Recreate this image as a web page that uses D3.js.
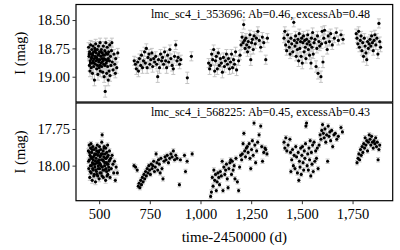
<!DOCTYPE html>
<html>
<head>
<meta charset="utf-8">
<script src="https://cdn.jsdelivr.net/npm/d3@7"></script>
<style>
body { margin: 0; background: #fff; }
svg text { font-family: "Liberation Serif", "Times New Roman", Times, serif; fill: #000; }
</style>
</head>
<body>
<svg id="chart" width="400" height="250"></svg>
<script>
// star labels
const starIds = ["lmc_sc4_i_353696", "lmc_sc4_i_568225"];
const abValues = [0.46, 0.45];
const excessAbValues = [0.48, 0.43];

// axes
const timeDomain = [386, 1948];
const timeTicks = [500, 750, 1000, 1250, 1500, 1750];
const magDomains = [[18.363, 19.223], [17.573, 18.239]];
const magTicks = [[18.50, 18.75, 19.00], [17.75, 18.00]];
const labelTime = 1296;

// observations: [time-2450000, I mag, error]
const topObs = [
  [448,18.74,.04],[450,18.82,.04],[452,18.90,.05],[453,18.78,.04],[455,18.95,.05],[456,18.86,.04],
  [458,18.72,.04],[459,18.80,.04],[461,18.92,.05],[462,18.84,.04],[464,18.76,.04],[465,18.88,.04],
  [467,18.97,.05],[468,18.81,.04],[470,18.73,.04],[471,18.86,.04],[473,18.91,.05],[474,18.78,.04],
  [476,18.84,.04],[477,19.03,.05],[479,18.75,.04],[480,18.82,.04],[482,18.89,.04],[483,18.71,.04],
  [485,18.86,.04],[486,18.79,.04],[488,18.93,.05],[489,18.84,.04],[491,18.76,.04],[492,18.90,.04],
  [494,18.98,.05],[495,18.81,.04],[497,18.73,.04],[498,18.87,.04],[500,18.92,.05],[502,18.78,.04],
  [503,18.85,.04],[505,18.70,.04],[506,18.95,.05],[508,18.82,.04],[510,18.88,.04],[511,18.76,.04],
  [513,18.91,.05],[515,18.84,.04],[516,18.79,.04],[518,18.96,.05],[520,18.86,.04],[521,18.73,.04],
  [523,18.89,.04],[525,19.00,.05],[526,18.81,.04],[528,18.77,.04],[530,19.13,.05],[532,18.85,.04],
  [533,18.70,.04],[535,18.88,.04],[537,18.97,.05],[538,18.80,.04],[540,18.74,.04],[542,18.91,.04],
  [545,19.03,.05],[545,18.84,.04],[547,18.78,.04],[549,18.95,.05],[551,18.86,.04],[552,18.72,.04],
  [554,18.99,.05],[556,18.82,.04],[558,18.90,.04],[561,18.77,.04],[563,18.70,.04],[565,18.87,.04],
  [569,18.94,.05],[573,18.80,.04],[577,18.89,.04],[580,18.97,.04],[582,18.84,.04],[587,18.92,.05],
  [592,18.79,.04],
  [451,18.80,.04],[457,18.88,.04],[463,18.83,.04],[469,18.79,.04],[475,18.88,.04],[481,18.77,.04],
  [487,18.83,.04],[493,18.85,.04],[499,18.80,.04],[504,18.90,.04],[509,18.78,.04],[514,18.87,.04],
  [519,18.81,.04],[524,18.84,.04],[529,18.90,.04],[534,18.79,.04],[539,18.86,.04],[544,18.80,.04],
  [673,18.86,.04],[679,18.89,.04],[684,18.93,.05],[690,18.87,.04],[694,18.95,.05],[699,18.84,.04],
  [705,18.90,.04],[709,18.81,.04],[714,18.92,.05],[719,18.86,.04],[724,18.78,.04],[728,18.88,.04],
  [733,18.75,.04],[737,18.92,.05],[741,18.83,.04],[746,18.80,.04],[750,18.89,.04],[755,18.85,.04],
  [760,18.79,.04],[764,18.91,.05],[769,18.84,.04],[774,18.87,.04],[779,18.82,.04],[784,18.89,.04],
  [789,19.00,.05],[793,18.85,.04],[798,18.92,.05],[803,18.80,.04],[808,18.86,.04],[813,18.83,.04],
  [818,18.89,.04],[823,18.78,.04],[828,18.86,.04],[833,18.92,.05],[838,18.81,.04],[843,18.87,.04],
  [849,18.76,.04],[854,18.84,.04],[860,18.90,.05],[866,18.93,.05],[872,18.82,.04],[878,18.72,.04],
  [884,18.86,.04],[890,18.83,.04],[897,18.89,.04],[903,18.85,.04],[935,19.01,.05],[955,18.82,.04],
  [1040,18.88,.04],[1045,18.93,.05],[1050,18.90,.04],[1055,18.80,.04],[1060,18.85,.04],[1065,18.76,.04],
  [1070,18.95,.05],[1074,18.86,.04],[1078,18.82,.04],[1083,18.93,.05],[1088,18.79,.04],[1093,18.90,.04],
  [1098,18.84,.04],[1103,18.88,.04],[1108,18.96,.05],[1113,18.83,.04],[1118,18.91,.05],[1123,18.86,.04],
  [1128,18.80,.04],[1133,18.89,.04],[1138,18.84,.04],[1143,18.93,.05],[1148,18.87,.04],[1153,18.80,.04],
  [1158,18.92,.05],[1163,18.85,.04],[1168,18.89,.04],[1173,18.78,.04],[1178,18.94,.05],[1188,18.86,.04],
  [1195,18.81,.04],[1200,18.72,.04],[1205,18.65,.04],[1210,18.70,.04],[1213,18.54,.04],[1217,18.68,.04],
  [1220,18.75,.04],[1224,18.66,.04],[1228,18.72,.04],[1232,18.78,.04],[1236,18.69,.04],[1240,18.74,.04],
  [1244,18.63,.04],[1248,18.85,.05],[1252,18.70,.04],[1256,18.67,.04],[1260,18.76,.04],[1265,18.64,.04],
  [1270,18.71,.04],[1276,18.66,.04],[1283,18.60,.04],[1290,18.68,.04],[1297,18.74,.04],[1305,18.65,.04],
  [1312,18.70,.04],[1322,18.85,.04],[1330,18.66,.04],
  [1412,18.66,.04],[1416,18.60,.04],[1420,18.72,.04],[1425,18.77,.04],[1430,18.63,.04],[1434,18.69,.04],
  [1438,18.74,.04],[1442,18.80,.04],[1446,18.66,.04],[1450,18.71,.04],[1455,18.78,.04],[1460,18.52,.04],
  [1463,18.68,.04],[1466,18.73,.04],[1469,18.64,.04],[1472,18.82,.04],[1475,18.70,.04],[1478,18.76,.04],
  [1481,18.67,.04],[1484,18.86,.05],[1487,18.62,.04],[1490,18.75,.04],[1493,18.69,.04],[1496,18.82,.04],
  [1499,18.66,.04],[1502,18.88,.05],[1505,18.70,.04],[1508,18.64,.04],[1511,18.78,.04],[1514,18.68,.04],
  [1517,18.74,.04],[1520,18.84,.04],[1523,18.67,.04],[1526,18.71,.04],[1529,18.63,.04],[1532,18.76,.04],
  [1535,18.69,.04],[1538,18.81,.04],[1541,18.72,.04],[1545,18.88,.05],[1547,18.66,.04],[1550,18.74,.04],
  [1553,18.61,.04],[1556,18.80,.04],[1560,18.70,.04],[1565,18.67,.04],[1570,18.91,.05],[1574,18.75,.04],
  [1577,18.64,.04],[1580,18.97,.05],[1584,18.69,.04],[1588,18.73,.04],[1594,19.00,.05],[1597,18.71,.04],
  [1600,18.60,.04],[1604,18.87,.05],[1608,18.66,.04],[1612,18.59,.04],[1618,18.70,.04],[1625,18.76,.04],
  [1630,18.64,.04],[1636,18.69,.04],[1642,18.62,.04],[1650,18.72,.04],[1660,18.66,.04],[1670,18.61,.04],
  [1680,18.68,.04],[1693,18.63,.04],[1703,18.67,.04],
  [1768,18.62,.04],[1772,18.66,.04],[1776,18.71,.04],[1780,18.60,.04],[1784,18.74,.04],[1788,18.68,.04],
  [1792,18.64,.04],[1796,18.77,.04],[1800,18.70,.04],[1804,18.82,.05],[1808,18.66,.04],[1812,18.73,.04],
  [1816,18.79,.04],[1820,18.85,.05],[1824,18.69,.04],[1828,18.75,.04],[1832,18.71,.04],[1836,18.67,.04],
  [1840,18.73,.04],[1844,18.64,.04],[1848,18.70,.04],[1852,18.77,.04],[1856,18.68,.04],[1860,18.63,.04],
  [1865,18.72,.04],[1870,18.66,.04],[1875,18.80,.04],[1880,18.53,.04],[1884,18.69,.04],[1888,18.74,.04]
];

const bottomObs = [
  [447,17.90,.015],[449,18.02,.015],[451,17.86,.015],[452,17.96,.015],[454,18.08,.02],[455,17.93,.015],
  [457,18.00,.015],[458,17.88,.015],[460,17.85,.015],[461,18.05,.015],[463,17.95,.015],[464,17.91,.015],
  [466,18.10,.02],[467,17.98,.015],[469,17.87,.015],[470,18.03,.015],[472,17.94,.015],[473,17.99,.015],
  [475,17.89,.015],[476,18.06,.015],[478,17.92,.015],[479,18.01,.015],[481,17.97,.015],[482,18.11,.02],
  [484,17.88,.015],[485,17.95,.015],[487,18.04,.015],[488,17.90,.015],[490,17.98,.015],[491,17.86,.015],
  [493,18.07,.015],[494,17.93,.015],[496,18.00,.015],[497,17.91,.015],[499,17.96,.015],[500,18.09,.02],
  [502,17.87,.015],[503,18.02,.015],[505,17.94,.015],[506,17.99,.015],[508,17.89,.015],[510,18.05,.015],
  [511,17.92,.015],[513,17.84,.015],[515,17.79,.015],[516,18.01,.015],[518,17.96,.015],[520,17.90,.015],
  [521,18.08,.015],[523,17.94,.015],[525,17.87,.015],[526,18.03,.015],[528,17.98,.015],[530,17.92,.015],
  [532,18.10,.02],[533,17.88,.015],[535,17.95,.015],[537,18.04,.015],[538,17.91,.015],[540,17.99,.015],
  [542,17.86,.015],[543,18.06,.015],[545,17.93,.015],[547,18.01,.015],[549,17.97,.015],[551,17.90,.015],
  [554,18.08,.015],[557,17.95,.015],[560,18.02,.015],[564,17.93,.015],[568,17.99,.015],[572,18.05,.015],
  [576,17.97,.015],[580,18.10,.015],[584,18.01,.015],[590,18.05,.015],
  [448,17.97,.015],[453,17.91,.015],[456,18.04,.015],[459,17.94,.015],[462,18.00,.015],[465,17.89,.015],
  [468,18.02,.015],[471,17.96,.015],[474,18.07,.015],[477,17.93,.015],[480,17.99,.015],[483,18.03,.015],
  [486,17.92,.015],[489,18.06,.015],[492,17.97,.015],[495,18.02,.015],[498,17.90,.015],[501,17.98,.015],
  [504,18.05,.015],[507,17.93,.015],[509,18.00,.015],[512,17.96,.015],[514,18.07,.015],[517,17.92,.015],
  [519,18.03,.015],[522,17.97,.015],[524,17.88,.015],[527,18.00,.015],[531,17.95,.015],[534,18.02,.015],
  [536,17.98,.015],[539,18.07,.015],[541,17.94,.015],[544,17.99,.015],[548,18.03,.015],[552,17.96,.015],
  [672,18.00,.015],[680,18.01,.015],[688,18.03,.015],[693,18.14,.015],[697,18.12,.015],[701,18.15,.015],
  [705,18.10,.015],[709,18.13,.015],[713,18.08,.015],[717,18.11,.015],[721,18.06,.015],[725,18.09,.015],
  [729,18.04,.015],[733,18.07,.015],[737,18.02,.015],[741,18.05,.015],[745,18.00,.015],[749,18.03,.015],
  [753,18.06,.015],[757,17.99,.015],[761,18.02,.015],[765,18.00,.015],[769,17.97,.015],[773,18.04,.015],
  [777,18.01,.015],[781,17.92,.015],[785,17.98,.015],[789,18.03,.015],[793,17.96,.015],[797,17.99,.015],
  [801,18.05,.015],[805,17.95,.015],[810,18.02,.015],[815,18.09,.015],[820,17.97,.015],[825,17.94,.015],
  [830,17.96,.015],[836,17.93,.015],[842,17.98,.015],[848,17.95,.015],[854,17.92,.015],[860,17.94,.015],
  [866,17.90,.015],[872,17.96,.015],[878,17.93,.015],[884,17.95,.015],[896,18.13,.015],[901,17.96,.015],
  [921,17.93,.015],[926,18.04,.015],[934,17.97,.015],[959,17.92,.015],
  [1050,18.21,.015],[1054,18.18,.015],[1058,18.08,.015],[1062,18.14,.015],[1066,18.03,.015],[1070,18.10,.015],
  [1074,18.06,.015],[1078,18.17,.015],[1082,18.11,.015],[1086,18.05,.015],[1090,18.08,.015],[1094,18.13,.015],
  [1098,18.04,.015],[1103,18.07,.015],[1107,17.97,.015],[1111,18.17,.015],[1115,18.01,.015],[1120,18.06,.015],
  [1124,18.03,.015],[1128,17.99,.015],[1132,18.09,.015],[1136,18.15,.015],[1140,18.02,.015],[1145,17.98,.015],
  [1149,17.96,.015],[1153,18.06,.015],[1157,17.97,.015],[1161,18.03,.015],[1166,18.00,.015],[1170,18.09,.015],
  [1175,17.95,.015],[1182,18.11,.015],[1188,18.17,.015],[1193,18.01,.015],[1198,17.93,.015],[1203,17.96,.015],
  [1206,17.92,.015],[1210,17.85,.015],[1214,17.78,.015],[1218,17.90,.015],[1222,17.94,.015],[1226,17.88,.015],
  [1231,17.87,.015],[1235,17.91,.015],[1240,17.85,.015],[1244,17.95,.015],[1248,18.02,.015],[1252,17.89,.015],
  [1256,17.83,.015],[1260,17.93,.015],[1264,17.71,.015],[1268,17.86,.015],[1272,17.98,.015],[1277,17.90,.015],
  [1282,17.84,.015],[1289,17.79,.015],[1297,17.73,.015],[1302,17.87,.015],[1306,17.97,.015],[1312,17.91,.015],
  [1318,17.88,.015],[1322,17.89,.015],[1328,17.92,.015],
  [1412,17.84,.015],[1416,17.88,.015],[1421,17.81,.015],[1426,17.90,.015],[1432,17.86,.015],[1441,17.82,.015],
  [1444,17.91,.015],[1446,18.04,.015],[1450,17.96,.015],[1454,17.89,.015],[1458,18.00,.015],[1462,17.93,.015],
  [1466,18.02,.015],[1470,17.87,.015],[1474,17.94,.015],[1478,18.05,.015],[1482,17.91,.015],[1485,18.10,.015],
  [1488,17.97,.015],[1491,18.01,.015],[1494,17.88,.015],[1497,18.06,.015],[1500,17.93,.015],[1503,17.87,.015],
  [1506,17.98,.015],[1509,18.03,.015],[1512,17.90,.015],[1515,17.95,.015],[1518,17.85,.015],[1520,17.73,.015],
  [1523,17.71,.015],[1526,18.00,.015],[1529,17.92,.015],[1532,18.03,.015],[1535,17.88,.015],[1538,17.96,.015],
  [1541,17.83,.015],[1544,18.07,.015],[1547,17.91,.015],[1550,17.99,.015],[1553,17.86,.015],[1556,18.04,.015],
  [1560,17.84,.015],[1564,17.97,.015],[1568,17.90,.015],[1572,17.95,.015],[1576,17.88,.015],[1580,18.02,.015],
  [1585,17.86,.015],[1590,17.79,.015],[1594,17.82,.015],[1598,17.76,.015],[1602,17.72,.015],[1606,17.78,.015],
  [1610,17.81,.015],[1614,17.75,.015],[1618,17.84,.015],[1622,17.79,.015],[1627,17.97,.015],[1630,17.73,.015],
  [1634,17.80,.015],[1638,17.77,.015],[1642,17.83,.015],[1647,17.76,.015],[1652,17.87,.015],[1658,17.79,.015],
  [1665,17.78,.015],[1672,17.82,.015],[1680,17.80,.015],[1693,17.74,.015],[1700,17.77,.015],
  [1772,17.98,.015],[1777,17.95,.015],[1781,17.92,.015],[1785,17.96,.015],[1789,17.89,.015],[1793,17.93,.015],
  [1797,17.87,.015],[1801,17.91,.015],[1805,17.85,.015],[1809,17.88,.015],[1812,17.81,.015],[1816,17.86,.015],
  [1820,17.83,.015],[1824,17.90,.015],[1828,17.84,.015],[1832,17.79,.015],[1836,17.82,.015],[1840,17.86,.015],
  [1844,17.80,.015],[1848,17.84,.015],[1852,17.88,.015],[1856,17.83,.015],[1860,17.85,.015],[1864,17.81,.015],
  [1868,17.87,.015],[1872,17.84,.015],[1876,17.96,.015],[1880,17.89,.015],[1884,17.86,.015]
];

const panelObs = [topObs, bottomObs];

// layout
const plotLeft = 76, plotRight = 392.7;
const panelTops = [4.5, 103];
const panelBottoms = [102, 200.7];

const svg = d3.select("#chart");

const x = d3.scaleLinear().domain(timeDomain).range([plotLeft, plotRight]);

function drawPanel(i) {
    var top = panelTops[i], bottom = panelBottoms[i];
    // magnitudes grow downward
    var y = d3.scaleLinear().domain(magDomains[i]).range([top, bottom]);
    var g = svg.append("g").attr("class", "panel-" + i);
    var obs = panelObs[i];

    // error bars
    var eb = g.append("g")
        .attr("stroke", "#c4c4c4")
        .attr("stroke-width", 1)
        .attr("fill", "none");
    eb.selectAll("path.err")
        .data(obs)
        .enter().append("path")
        .attr("class", "err")
        .attr("d", function(d){
            var cx = x(d[0]), y0 = y(d[1] - d[2]), y1 = y(d[1] + d[2]);
            return "M" + cx + "," + y0 + "V" + y1 +
                   "M" + (cx - 2) + "," + y0 + "H" + (cx + 2) +
                   "M" + (cx - 2) + "," + y1 + "H" + (cx + 2);
        });

    g.selectAll("circle.obs")
        .data(obs)
        .enter().append("circle")
        .attr("class", "obs")
        .attr("cx", function(d){ return x(d[0]); })
        .attr("cy", function(d){ return y(d[1]); })
        .attr("r", 1.6)
        .attr("fill", "#000");

    g.append("rect")
        .attr("x", plotLeft)
        .attr("y", top)
        .attr("width", plotRight - plotLeft)
        .attr("height", bottom - top)
        .attr("fill", "none")
        .attr("stroke", "#000")
        .attr("stroke-width", 1.2);

    var yAxis = g.append("g")
        .attr("transform", "translate(" + plotLeft + ",0)")
        .call(d3.axisLeft(y).tickValues(magTicks[i]).tickFormat(d3.format(".2f")).tickSize(3.5).tickPadding(2.5));
    yAxis.attr("font-family", null);
    yAxis.select(".domain").remove();
    yAxis.selectAll("line").attr("stroke", "#333");
    yAxis.selectAll("text").style("font-size", "14.5px");

    g.append("text")
        .attr("x", x(labelTime))
        .attr("y", top + 13)
        .attr("text-anchor", "middle")
        .style("font-size", "12px")
        .text(starIds[i] + ": Ab=" + abValues[i] + ", excessAb=" + excessAbValues[i]);

    g.append("text")
        .attr("transform", "translate(20," + ((top + bottom) / 2) + ") rotate(-90)")
        .attr("text-anchor", "middle")
        .attr("dy", "0.35em")
        .style("font-size", "14.5px")
        .text("I (mag)");
}

drawPanel(0);
drawPanel(1);

var xAxis = svg.append("g")
    .attr("transform", "translate(0," + panelBottoms[1] + ")")
    .call(d3.axisBottom(x).tickValues(timeTicks).tickFormat(d3.format(",")).tickSize(3.5).tickPadding(5));
xAxis.attr("font-family", null);
xAxis.select(".domain").remove();
xAxis.selectAll("line").attr("stroke", "#333");
xAxis.selectAll("text").style("font-size", "14.5px");

svg.append("text")
    .attr("x", (plotLeft + plotRight) / 2)
    .attr("y", 242)
    .attr("text-anchor", "middle")
    .style("font-size", "15px")
    .text("time-2450000 (d)");
</script>
</body>
</html>
